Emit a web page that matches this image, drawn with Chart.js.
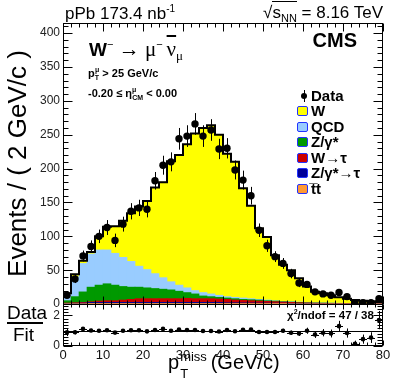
<!DOCTYPE html>
<html>
<head>
<meta charset="utf-8">
<script src="https://cdn.jsdelivr.net/npm/chart.js@4.4.0/dist/chart.umd.min.js"></script>
<style>
body { margin: 0; background: #fff; }
#wrap { position: relative; width: 399px; height: 387px; font-family: "Liberation Sans", Arial, sans-serif; color: #000; }
#wrap canvas { position: absolute; left: 0; top: 0; }
.t { position: absolute; white-space: nowrap; line-height: 1; }
.b { font-weight: bold; }
.serif { font-family: "Liberation Serif", "DejaVu Serif", serif; font-weight: normal; }
.box { position: absolute; width: 9px; height: 8px; border: 1.5px solid #2233ff; border-radius: 2px; }
</style>
</head>
<body>
<div id="wrap">
  <canvas id="plot" width="399" height="387"></canvas>

  <div class="t" style="left:65px;top:4px;font-size:17px;">pPb 173.4 nb<sup style="font-size:10px;vertical-align:7px;">-1</sup></div>
  <div class="t" style="right:16px;top:4px;font-size:17px;">&radic;<span style="border-top:1px solid #000;padding-top:1px;">s<sub style="font-size:11px;vertical-align:-4px;">NN</sub></span> = 8.16 TeV</div>

  <div class="t" style="left:89px;top:39px;font-size:19px;"><span class="b">W</span><sup style="font-size:11px;vertical-align:8px;">&minus;</sup> <span class="serif" style="font-size:21px;">&rarr; &mu;</span><sup style="font-size:11px;vertical-align:8px;">&minus;</sup><span class="serif" style="font-size:21px;margin-left:4px;text-decoration:overline;">&nu;</span><sub class="serif" style="font-size:13px;vertical-align:-4px;">&mu;</sub></div>
  <div class="t b" style="left:88px;top:66px;font-size:11px;">p<sub style="font-size:7px;vertical-align:-3px;">T</sub><sup style="font-size:7px;vertical-align:5px;margin-left:-4px;">&mu;</sup> &gt; 25 GeV/c</div>
  <div class="t b" style="left:88px;top:86px;font-size:11px;">-0.20 &le; &eta;<sup style="font-size:7px;vertical-align:5px;">&mu;</sup><sub style="font-size:7px;vertical-align:-3px;margin-left:-4px;">CM</sub> &lt; 0.00</div>
  <div class="t b" style="right:42px;top:30px;font-size:20px;">CMS</div>

  <div id="legend"></div>

  <div class="t" style="left:7px;top:303px;font-size:19px;">Data</div>
  <div style="position:absolute;left:7px;top:322px;width:36px;height:1.5px;background:#000;"></div>
  <div class="t" style="left:13px;top:325px;font-size:19px;">Fit</div>
  <div class="t b" style="left:287px;top:308px;font-size:11.5px;">&chi;<sup style="font-size:7px;vertical-align:5px;">2</sup>/ndof = 47 / 38</div>

  <div class="t" style="left:168px;top:352px;font-size:20px;">p<span style="display:inline-block;position:relative;width:26px;height:14px;"><span style="position:absolute;left:1px;top:-5px;font-size:13px;">miss</span><span style="position:absolute;left:1px;top:12px;font-size:13px;">T</span></span> (GeV/c)</div>
</div>

<script>
// bin centres, 2 GeV/c wide bins from 0 to 80
var binCenters = [1, 3, 5, 7, 9, 11, 13, 15, 17, 19, 21, 23, 25, 27, 29, 31, 33, 35, 37, 39,
                  41, 43, 45, 47, 49, 51, 53, 55, 57, 59, 61, 63, 65, 67, 69, 71, 73, 75, 77, 79];

// stacked fit components (events per bin)
var wSignal = [2, 4, 4, 3, 20, 34, 40, 54, 71, 88, 101, 127, 141, 178, 192, 212, 232, 243, 249, 237,
               211, 200, 162, 137, 105, 93, 67, 54, 46.5, 35, 23.5, 16, 14.2, 11.5, 8.7, 6.9, 5, 4.1, 3.2, 2.3];
var qcd = [9, 29, 42, 49, 52, 50, 47, 43, 38, 31, 27, 22, 17, 12, 9, 7, 5, 5, 4, 3,
           2, 2, 2, 1.5, 1, 1, 0.5, 0.5, 0.5, 0.5, 0.5, 0.3, 0.3, 0.2, 0.2, 0.1, 0.1, 0.1, 0.1, 0.1];
var dy = [3.5, 9, 15.5, 21.5, 23.5, 25, 23, 20, 18, 17, 16, 15, 14, 13, 11, 8.5, 7, 4, 3, 2.5,
          2, 2, 1.5, 1.5, 1.5, 1, 1, 0.5, 0.5, 0.5, 0.3, 0.3, 0.3, 0.3, 0.2, 0.2, 0.2, 0.2, 0.2, 0.1];
var wTau = [0.5, 0.8, 1, 1, 2, 2.5, 2.5, 3.5, 4.5, 5.5, 5.5, 5.5, 5.5, 5.5, 5.5, 6, 5.5, 5.5, 5.5, 5,
            5, 4, 3.7, 3.3, 2.9, 2.5, 2.1, 1.7, 1.5, 1.1, 0.9, 0.7, 0.6, 0.5, 0.4, 0.3, 0.3, 0.2, 0.2, 0.2];
var dyTau = [0.5, 0.7, 1, 1.7, 1.7, 1.7, 1.7, 1.7, 1.7, 1.7, 1.7, 1.7, 1.7, 1.7, 1.7, 1.7, 1.7, 1.7, 1.7, 1.7,
             1.2, 1.2, 1.0, 0.9, 0.8, 0.7, 0.6, 0.5, 0.6, 0.5, 0.4, 0.3, 0.2, 0.1, 0.1, 0.1, 0.1, 0.1, 0.1, 0.1];
var ttbar = [0.5, 0.5, 0.5, 0.8, 0.8, 0.8, 0.8, 0.8, 0.8, 0.8, 0.8, 0.8, 0.8, 0.8, 0.8, 0.8, 0.8, 0.8, 0.8, 0.8,
             0.8, 0.8, 0.8, 0.8, 0.8, 0.8, 0.8, 0.8, 0.4, 0.4, 0.4, 0.4, 0.4, 0.4, 0.4, 0.4, 0.3, 0.3, 0.2, 0.2];

// data and its errors
var dataCounts = [13, 37, 71, 85, 100, 113, 94, 118, 137, 142, 140, 182, 205, 210, 244, 248, 266, 248, 257, 229,
                  230, 198, 183, 160, 109, 86, 70, 60, 45, 31, 29, 18, 15, 13, 17, 11, 1, 2, 2, 8];
var dataErrors = [4, 6, 8, 9, 10, 11, 10, 11, 12, 12, 12, 13, 14, 14, 16, 16, 16, 16, 16, 15,
                  15, 14, 14, 13, 10, 9, 8, 8, 7, 6, 5, 4, 4, 4, 4, 3, 1, 1.5, 1.5, 3];

// lower panel data / fit
var ratio = [0.9, 0.9, 1.12, 1.02, 1.0, 1.03, 0.88, 1.0, 1.03, 1.03, 0.96, 1.05, 1.12, 1.0, 1.08, 1.05, 1.05, 0.98, 0.98, 0.95,
             1.05, 0.97, 1.07, 1.08, 0.92, 0.92, 0.92, 1.0, 0.87, 0.82, 1.0, 0.75, 0.87, 0.82, 1.3, 0.85, 0.15, 0.45, 0.55, 1.7];
var ratioErrors = [0.25, 0.14, 0.12, 0.11, 0.1, 0.09, 0.09, 0.09, 0.09, 0.08, 0.08, 0.07, 0.07, 0.07, 0.07, 0.07, 0.06, 0.06, 0.06, 0.06,
                   0.07, 0.07, 0.08, 0.09, 0.09, 0.1, 0.11, 0.13, 0.14, 0.16, 0.2, 0.22, 0.24, 0.26, 0.35, 0.3, 0.2, 0.3, 0.35, 0.6];

var legendLabels = ['Data', 'W', 'QCD', 'Z/\u03b3*', 'W\u2192\u03c4', 'Z/\u03b3*\u2192\u03c4', 't\u0305t'];

// stack order, bottom first
var components = [
    { label: 'tt', values: ttbar, color: '#ff9933' },
    { label: 'Z/gamma*->tau', values: dyTau, color: '#000099' },
    { label: 'W->tau', values: wTau, color: '#cc0000' },
    { label: 'Z/gamma*', values: dy, color: '#009900' },
    { label: 'QCD', values: qcd, color: '#99ccff' },
    { label: 'W', values: wSignal, color: '#ffff00' }
];

function points(xs, ys) {
    return xs.map(function (x, i) { return { x: x, y: ys[i] }; });
}

// sum of the fit for the black outline
var total = binCenters.map(function (c, i) {
    return components.reduce(function (s, comp) { return s + comp.values[i]; }, 0);
});
var outline = [{ x: 0, y: 0 }];
binCenters.forEach(function (c, i) { outline.push({ x: c - 1, y: total[i] }); });
outline.push({ x: 80, y: total[total.length - 1] });

// legend (html, inside the frame)
(function () {
    var el = document.getElementById('legend');
    var colors = [null, '#ffff00', '#99ccff', '#009900', '#cc0000', '#000099', '#ff9933'];
    var html = '';
    legendLabels.forEach(function (lab, i) {
        var base = 100.5 + i * 15.5;
        html += '<div class="t b" style="left:311px;top:' + (base - 12.7) + 'px;font-size:15px;">' + lab + '</div>';
        if (colors[i]) {
            html += '<div class="box" style="left:297px;top:' + (base - 10) + 'px;background:' + colors[i] + ';"></div>';
        } else {
            html += '<div style="position:absolute;left:301px;top:' + (base - 8) + 'px;width:6px;height:6px;border-radius:50%;background:#000;"></div>';
            html += '<div style="position:absolute;left:303.5px;top:' + (base - 11) + 'px;width:1px;height:12px;background:#000;"></div>';
        }
    });
    el.innerHTML = html;
})();

var errorBars = {
    id: 'errorBars',
    afterDatasetsDraw: function (chart) {
        var ctx = chart.ctx;
        chart.data.datasets.forEach(function (ds, i) {
            if (!ds.errors) return;
            var meta = chart.getDatasetMeta(i);
            var ys = chart.scales[ds.yAxisID];
            var xs = chart.scales.x;
            ctx.save();
            ctx.strokeStyle = '#000';
            ctx.lineWidth = 1;
            ctx.beginPath();
            meta.data.forEach(function (pt, j) {
                var v = ds.data[j].y, e = ds.errors[j];
                var px = Math.round(pt.x) + 0.5;
                ctx.moveTo(px, ys.getPixelForValue(Math.max(v - e, ys.min)));
                ctx.lineTo(px, ys.getPixelForValue(Math.min(v + e, ys.max)));
                if (ds.xHalfWidth) {
                    var py = Math.round(pt.y) + 0.5;
                    ctx.moveTo(xs.getPixelForValue(ds.data[j].x - ds.xHalfWidth), py);
                    ctx.lineTo(xs.getPixelForValue(ds.data[j].x + ds.xHalfWidth), py);
                }
            });
            ctx.stroke();
            ctx.restore();
        });
    }
};

// ROOT style frame with ticks on the inside of all sides
var rootFrame = {
    id: 'rootFrame',
    beforeDatasetsDraw: function (chart) {
        var ctx = chart.ctx, x = chart.scales.x, r = chart.scales.yr;
        var py = Math.round(r.getPixelForValue(1)) + 0.5;
        ctx.save();
        ctx.strokeStyle = '#000';
        ctx.lineWidth = 1;
        ctx.beginPath();
        ctx.moveTo(x.left, py);
        ctx.lineTo(x.right, py);
        ctx.stroke();
        ctx.restore();
    },
    afterDraw: function (chart) {
        var ctx = chart.ctx, x = chart.scales.x, y = chart.scales.y, r = chart.scales.yr;
        var L = Math.round(x.left) + 0.5, R = Math.round(x.right) - 0.5;
        var T = Math.round(y.top) + 0.5, M = Math.round(y.bottom) + 0.5, B = Math.round(r.bottom) - 0.5;
        ctx.save();
        ctx.strokeStyle = '#000';
        ctx.lineWidth = 1;
        ctx.strokeRect(L, T, R - L, M - T);
        ctx.strokeRect(L, M, R - L, B - M);
        ctx.beginPath();
        var v, px, len;
        for (v = 0; v <= 80; v += 2) {
            px = Math.round(x.getPixelForValue(v)) + 0.5;
            len = v % 10 === 0 ? 8 : 4;
            ctx.moveTo(px, T); ctx.lineTo(px, T + len);
            ctx.moveTo(px, M); ctx.lineTo(px, M - len);
            len = v % 10 === 0 ? 5 : 3;
            ctx.moveTo(px, M); ctx.lineTo(px, M + len);
            ctx.moveTo(px, B); ctx.lineTo(px, B - len);
        }
        for (v = 0; v <= 410; v += 10) {
            px = Math.round(y.getPixelForValue(v)) + 0.5;
            len = v % 50 === 0 ? 9 : 5;
            ctx.moveTo(L, px); ctx.lineTo(L + len, px);
            ctx.moveTo(R, px); ctx.lineTo(R - len, px);
        }
        for (v = 0; v <= 2.6; v += 0.2) {
            px = Math.round(r.getPixelForValue(v)) + 0.5;
            len = Math.abs(v - Math.round(v)) < 0.01 ? 9 : 5;
            ctx.moveTo(L, px); ctx.lineTo(L + len, px);
            ctx.moveTo(R, px); ctx.lineTo(R - len, px);
        }
        ctx.stroke();
        ctx.restore();
    }
};

var datasets = [
    {
        type: 'line', label: 'Data', data: points(binCenters, dataCounts), errors: dataErrors,
        yAxisID: 'y', stack: 'data', order: 0, showLine: false,
        pointRadius: 3.7, pointBackgroundColor: '#000', pointBorderWidth: 0
    },
    {
        type: 'line', label: 'Data/Fit', data: points(binCenters, ratio), errors: ratioErrors, xHalfWidth: 1,
        yAxisID: 'yr', order: 0, showLine: false,
        pointRadius: 2.3, pointBackgroundColor: '#000', pointBorderWidth: 0
    },
    {
        type: 'line', label: 'Fit', data: outline, yAxisID: 'y', stack: 'fit', order: 1,
        stepped: true, borderColor: '#000', borderWidth: 2, pointRadius: 0, fill: false
    }
];
components.forEach(function (comp) {
    datasets.push({
        type: 'bar', label: comp.label, data: points(binCenters, comp.values),
        yAxisID: 'y', stack: 'mc', order: 2,
        backgroundColor: comp.color, borderWidth: 0,
        barPercentage: 1, categoryPercentage: 1
    });
});

Chart.defaults.font.family = '"Liberation Sans", Arial, sans-serif';
Chart.defaults.color = '#222';

new Chart(document.getElementById('plot'), {
    data: { datasets: datasets },
    options: {
        responsive: false,
        animation: false,
        events: [],
        layout: { padding: { left: 0, top: 23, right: 16, bottom: 0 } },
        plugins: { legend: { display: false }, tooltip: { enabled: false } },
        scales: {
            x: {
                type: 'linear', min: 0, max: 80, offset: false,
                grid: { display: false, drawTicks: false }, border: { display: false },
                ticks: { stepSize: 10, padding: 2, font: { size: 13 }, color: '#111' },
                afterFit: function (s) { s.height = 41; }
            },
            yr: {
                type: 'linear', position: 'left', stack: 'panels', stackWeight: 1,
                min: 0, max: 2.75,
                grid: { display: false, drawTicks: false }, border: { display: false },
                ticks: { stepSize: 1, includeBounds: false, padding: 3, font: { size: 12 }, color: '#222' },
                afterFit: function (s) { s.width = 63; }
            },
            y: {
                type: 'linear', position: 'left', stack: 'panels', stackWeight: 6.7, stacked: true,
                min: 0, max: 415,
                grid: { display: false, drawTicks: false }, border: { display: false },
                ticks: { stepSize: 50, includeBounds: false, padding: 3, font: { size: 12 }, color: '#222' },
                title: { display: true, text: 'Events / ( 2 GeV/c )', font: { size: 26 }, color: '#000', padding: { top: 3, bottom: 0 } },
                afterFit: function (s) { s.width = 63; }
            }
        }
    },
    plugins: [rootFrame, errorBars]
});
</script>
</body>
</html>
